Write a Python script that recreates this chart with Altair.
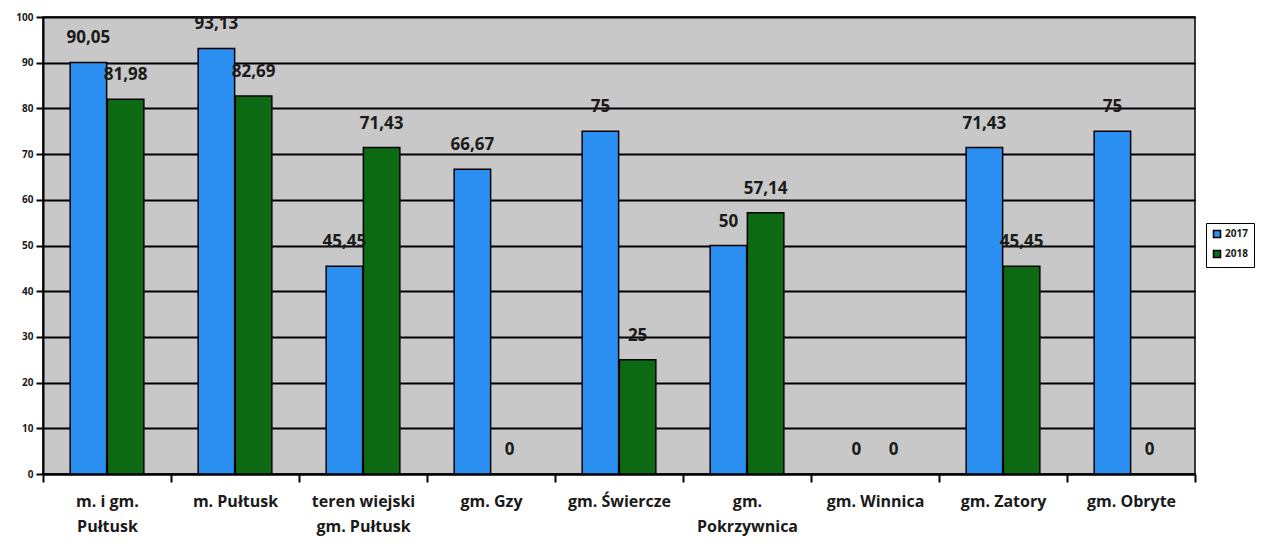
import altair as alt
import pandas as pd

categories = ["m. i gm. Pułtusk", "m. Pułtusk", "teren wiejski gm. Pułtusk", "gm. Gzy",
              "gm. Świercze", "gm. Pokrzywnica", "gm. Winnica", "gm. Zatory", "gm. Obryte"]
values_2017 = [90.05, 93.13, 45.45, 66.67, 75, 50, 0, 71.43, 75]
values_2018 = [81.98, 82.69, 71.43, 0, 25, 57.14, 0, 45.45, 0]
years = ["2017", "2018"]

label_lines = {
    "m. i gm. Pułtusk": ["m. i gm.", "Pułtusk"],
    "teren wiejski gm. Pułtusk": ["teren wiejski", "gm. Pułtusk"],
    "gm. Pokrzywnica": ["gm.", "Pokrzywnica"],
}

rows = []
for c, a, b in zip(categories, values_2017, values_2018):
    rows.append({"kategoria": c, "rok": years[0], "wartosc": a})
    rows.append({"kategoria": c, "rok": years[1], "wartosc": b})
df = pd.DataFrame(rows)


def fmt(v):
    s = ("%.2f" % v).rstrip("0").rstrip(".")
    return s.replace(".", ",")


df["etykieta"] = df["wartosc"].apply(fmt)

expr_parts = []
for k, v in label_lines.items():
    expr_parts.append("datum.label == '%s' ? ['%s', '%s']" % (k, v[0], v[1]))
label_expr = " : ".join(expr_parts) + " : datum.label"

FONT = "Open Sans"

x = alt.X("kategoria:N", sort=categories, title=None,
          scale=alt.Scale(paddingInner=0, paddingOuter=0),
          axis=alt.Axis(labelExpr=label_expr, labelAngle=0, labelFont=FONT,
                        labelFontSize=16, labelFontWeight="bold", labelColor="#1a1a1a",
                        labelLineHeight=25, labelPadding=11, tickBand="extent",
                        tickColor="black", tickWidth=2, tickSize=8, domainColor="black",
                        domainWidth=2, grid=False))
xo = alt.XOffset("rok:N", scale=alt.Scale(paddingOuter=0.73, paddingInner=0.02))
y = alt.Y("wartosc:Q", title=None,
          scale=alt.Scale(domain=[0, 100]),
          axis=alt.Axis(values=list(range(0, 101, 10)), labelFont=FONT, labelFontSize=10,
                        labelFontWeight="bold", labelColor="#1a1a1a", gridColor="black",
                        gridWidth=2, tickColor="black", tickWidth=2, tickSize=7,
                        domainColor="black", domainWidth=2, labelPadding=3))

color = alt.Color("rok:N", scale=alt.Scale(domain=years, range=["#2a8ff0", "#0b6a12"]),
                  legend=alt.Legend(title=None, orient="none", legendX=1163, legendY=206,
                                    symbolType="square", symbolStrokeColor="black",
                                    symbolStrokeWidth=1.5, symbolSize=50,
                                    labelFont=FONT, labelFontSize=10, labelFontWeight="bold",
                                    labelColor="#1a1a1a", strokeColor="black", padding=6,
                                    rowPadding=6, labelOffset=3))

bars = alt.Chart(df).transform_filter("datum.wartosc > 0").mark_bar(
    stroke="black", strokeWidth=1.5).encode(x=x, xOffset=xo, y=y, color=color)

text = alt.Chart(df).mark_text(font=FONT, fontSize=17, fontWeight="bold", color="#1a1a1a",
                               baseline="middle", dy=-24).encode(
    x=alt.X("kategoria:N", sort=categories), xOffset=alt.XOffset("rok:N"),
    y="wartosc:Q", text="etykieta:N")

chart = (bars + text).properties(
    width=1152, height=457,
    padding={"left": 7, "top": 4, "right": 0, "bottom": 16},
    background="white",
).configure_view(fill="#c8c8c8", stroke="black", strokeWidth=1.5)

chart.save("out.html", embed_options={"renderer": "svg", "actions": False})
